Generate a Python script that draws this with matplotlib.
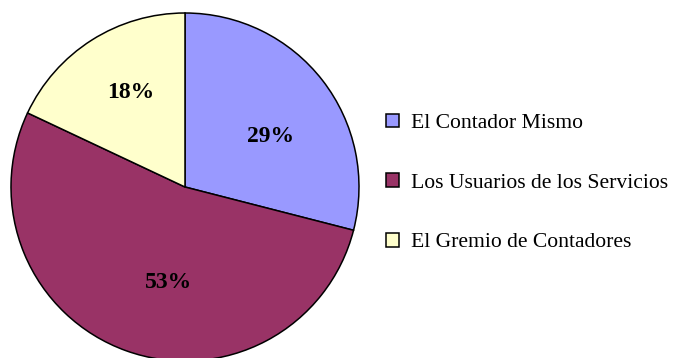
import numpy as np
import matplotlib.pyplot as plt
from matplotlib.patches import Patch

plt.rcParams["font.family"] = ["Liberation Serif", "DejaVu Serif"]

categories = ["El Contador Mismo", "Los Usuarios de los Servicios", "El Gremio de Contadores"]
shares = [29, 53, 18]
colors = ["#9999FF", "#993366", "#FFFFCC"]

# where each percentage label sits: (angle in degrees, fraction of radius)
label_spots = [(30.5, 0.57), (-100.0, 0.555), (120.0, 0.625)]

W, H = 676, 358
fig = plt.figure(figsize=(W / 100, H / 100), dpi=100)

cx, cy, r = 185, 187, 174
ax = fig.add_axes([(cx - r) / W, (H - cy - r) / H, 2 * r / W, 2 * r / H])

wedges, _ = ax.pie(shares, colors=colors, startangle=90, counterclock=False,
                   radius=1, wedgeprops=dict(edgecolor="black", linewidth=1.1))
ax.set_xlim(-1, 1)
ax.set_ylim(-1, 1)
ax.axis("off")

for val, (ang, dist) in zip(shares, label_spots):
    a = np.deg2rad(ang)
    ax.text(dist * np.cos(a), dist * np.sin(a), f"{val}%", ha="center", va="center",
            fontsize=17, fontweight="bold")

handles = [Patch(facecolor=c, edgecolor="black", linewidth=1.1) for c in colors]
fig.legend(handles, categories, loc="center left", bbox_to_anchor=(386 / W, 1 - 183 / H),
           frameon=False, fontsize=15.6, handlelength=0.6, handleheight=0.6,
           handletextpad=0.55, labelspacing=1.85, borderpad=0, borderaxespad=0)

fig.savefig("out.png", dpi=100)
